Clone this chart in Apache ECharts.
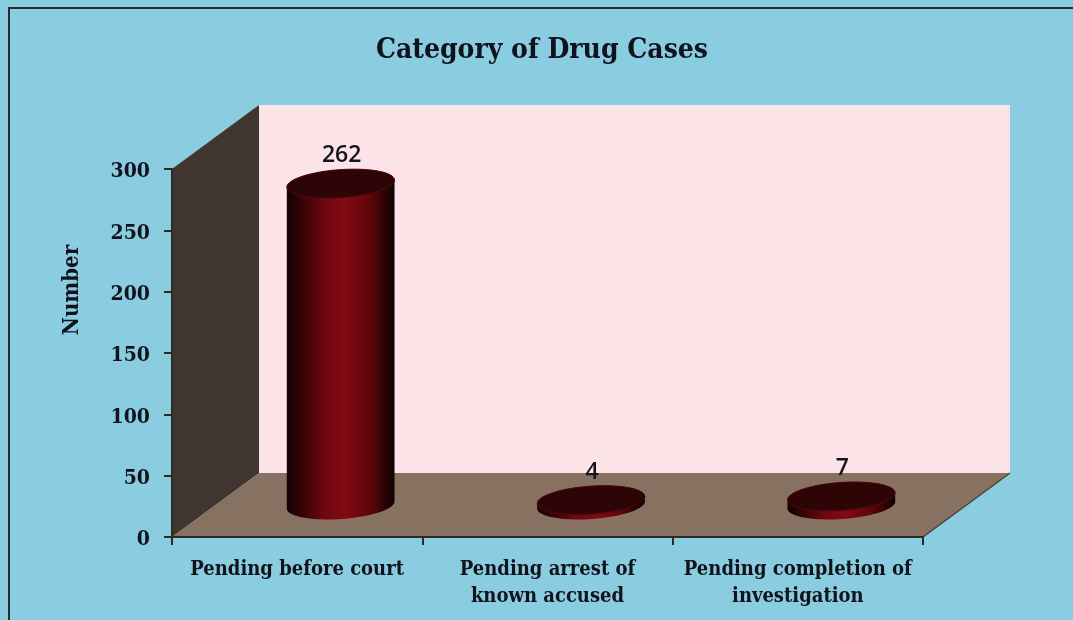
<!DOCTYPE html>
<html>
<head>
<meta charset="utf-8">
<title>Category of Drug Cases</title>
<script src="https://cdn.jsdelivr.net/npm/echarts@6/dist/echarts.min.js"></script>
<style>
  html, body { margin: 0; padding: 0; background: #8bcde0; }
  #main { width: 1073px; height: 620px; }
</style>
</head>
<body>
<div id="main"></div>
<script>
// data
var categories = ['Pending before court', 'Pending arrest of\nknown accused', 'Pending completion of\ninvestigation'];
var caseCounts = [262, 4, 7];
var yTicks = [0, 50, 100, 150, 200, 250, 300];

var serifFont = '"DejaVu Serif Condensed", "DejaVu Serif", serif';
var depthX = 87, depthY = -64; // 3d box offset
var colRx = 54, colRy = 14, colTilt = -4 * Math.PI / 180;

var myChart = echarts.init(document.getElementById('main'));

// ellipse points for half a turn, from angle a0 to a1
function arcPoints(cx, cy, a0, a1) {
  var pts = [];
  for (var i = 0; i <= 40; i++) {
    var a = a0 + (a1 - a0) * i / 40;
    var ex = colRx * Math.cos(a), ey = colRy * Math.sin(a);
    pts.push([
      cx + ex * Math.cos(colTilt) - ey * Math.sin(colTilt),
      cy + ex * Math.sin(colTilt) + ey * Math.cos(colTilt)
    ]);
  }
  return pts;
}

// left wall, floor and back wall of the box
function renderWalls(params, api) {
  var yMax = yTicks[yTicks.length - 1];
  var s = params.coordSys;
  var left = s.x, right = s.x + s.width;
  var bottom = api.coord([0, 0])[1], top = api.coord([0, yMax])[1];
  return {
    type: 'group',
    children: [{
      type: 'polygon',
      shape: { points: [[left + depthX, top + depthY], [right + depthX, top + depthY], [right + depthX, bottom + depthY], [left + depthX, bottom + depthY]] },
      style: { fill: '#fce3e7' }
    }, {
      type: 'polygon',
      shape: { points: [[left, top], [left + depthX, top + depthY], [left + depthX, bottom + depthY], [left, bottom]] },
      style: { fill: '#40362f' }
    }, {
      type: 'polygon',
      shape: { points: [[left, bottom], [left + depthX, bottom + depthY], [right + depthX, bottom + depthY], [right, bottom]] },
      style: { fill: '#877262' }
    }, {
      type: 'line',
      shape: { x1: right, y1: bottom, x2: right + depthX, y2: bottom + depthY },
      style: { stroke: '#4a4038', lineWidth: 1.5 }
    }]
  };
}

// one cylinder, drawn half way into the box depth
function renderColumn(params, api) {
  var top = api.coord([api.value(0), api.value(1)]);
  var base = api.coord([api.value(0), 0]);
  var cx = top[0] + depthX / 2;
  var topY = top[1] + depthY / 2;
  var baseY = base[1] + depthY / 2;
  var body = arcPoints(cx, baseY, 0, Math.PI).concat(arcPoints(cx, topY, Math.PI, 2 * Math.PI));
  return {
    type: 'group',
    children: [{
      type: 'polygon',
      shape: { points: body },
      style: {
        fill: new echarts.graphic.LinearGradient(0, 0, 1, 0, [
          { offset: 0, color: '#140202' },
          { offset: 0.14, color: '#350405' },
          { offset: 0.35, color: '#6e0810' },
          { offset: 0.55, color: '#820a13' },
          { offset: 0.78, color: '#5c0609' },
          { offset: 0.93, color: '#240303' },
          { offset: 1, color: '#120202' }
        ])
      }
    }, {
      type: 'polygon',
      shape: { points: arcPoints(cx, topY, 0, 2 * Math.PI) },
      style: { fill: '#2e0506', stroke: '#4f090e', lineWidth: 1 }
    }, {
      type: 'text',
      x: cx + 1,
      y: topY - colRy - 14,
      style: {
        text: String(api.value(1)),
        font: '600 23px "Open Sans", sans-serif',
        fill: '#14141c',
        align: 'center',
        verticalAlign: 'middle'
      }
    }]
  };
}

var option = {
  animation: false,
  backgroundColor: '#8bcde0',
  title: {
    text: 'Category of Drug Cases',
    left: 537,
    top: 32,
    textAlign: 'center',
    textStyle: { fontFamily: serifFont, fontWeight: 'bold', fontSize: 28, color: '#10131c' }
  },
  grid: { left: 172, right: 150, top: 169, height: 368 },
  xAxis: {
    type: 'category',
    z: 5,
    data: categories,
    axisLine: { lineStyle: { color: '#2f2a24', width: 2 } },
    axisTick: { show: true, length: 8, alignWithLabel: false, lineStyle: { color: '#2f2a24', width: 2 } },
    axisLabel: {
      margin: 19,
      interval: 0,
      fontFamily: serifFont,
      fontWeight: 'bold',
      fontSize: 20,
      lineHeight: 27,
      color: '#10131c'
    }
  },
  yAxis: {
    type: 'value',
    z: 5,
    min: yTicks[0],
    max: yTicks[yTicks.length - 1],
    interval: 50,
    name: 'Number',
    nameLocation: 'middle',
    nameGap: 89,
    nameTextStyle: { fontFamily: serifFont, fontWeight: 'bold', fontSize: 22, color: '#10131c', padding: [0, 0, 0, 126] },
    splitLine: { show: false },
    axisLine: { show: true, lineStyle: { color: '#2f2a24', width: 2 } },
    axisTick: { show: true, length: 8, lineStyle: { color: '#2f2a24', width: 2 } },
    axisLabel: { margin: 22, verticalAlign: 'top', lineHeight: 6, fontFamily: serifFont, fontWeight: 'bold', fontSize: 21, color: '#10131c' }
  },
  graphic: [{
    // dark frame on the top and left of the panel
    type: 'polyline',
    silent: true,
    shape: { points: [[9, 620], [9, 8], [1073, 8]] },
    style: { stroke: '#2a2a2a', fill: null, lineWidth: 2 }
  }],
  series: [{
    type: 'custom',
    z: 1,
    clip: false,
    silent: true,
    data: [0],
    renderItem: renderWalls
  }, {
    type: 'custom',
    z: 2,
    clip: false,
    silent: true,
    encode: { x: 0, y: 1 },
    data: caseCounts.map(function (v, i) { return [i, v]; }),
    renderItem: renderColumn
  }]
};

myChart.setOption(option);
</script>
</body>
</html>
